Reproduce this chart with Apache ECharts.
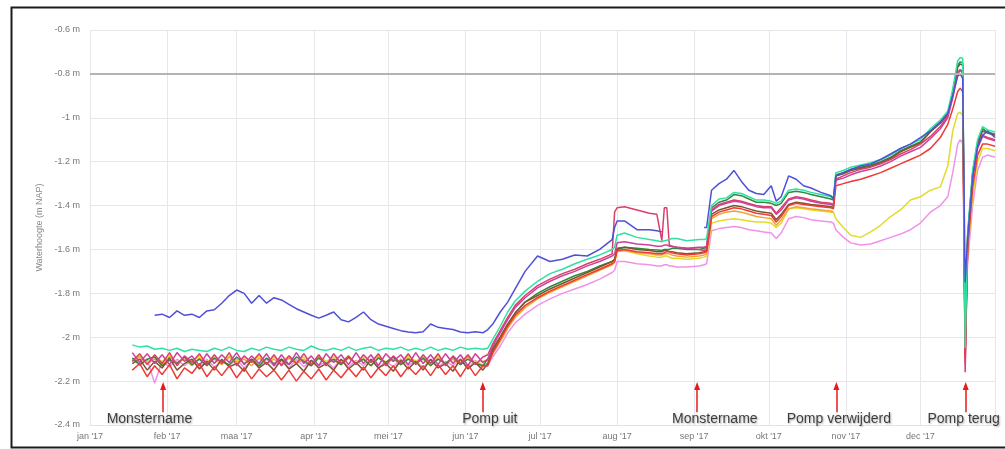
<!DOCTYPE html>
<html>
<head>
<meta charset="utf-8">
<title>Waterhoogte 2017</title>
<script src="https://cdn.jsdelivr.net/npm/echarts@6/dist/echarts.min.js"></script>
<style>
  html, body { margin: 0; padding: 0; background: #fff; }
  #chart { width: 1005px; height: 449px; }
</style>
</head>
<body>
<div id="chart"></div>
<script>
// meetdagen (dag van het jaar, 1 jan = 0)
const days = [
  17, 20, 23, 26, 29, 32, 35, 38, 41, 44,
  47, 50, 53, 56, 59, 62, 65, 68, 71, 74,
  77, 80, 83, 86, 89, 92, 95, 98, 101, 104,
  107, 110, 113, 116, 119, 122, 125, 128, 131, 134,
  137, 140, 143, 146, 149, 152, 155, 158, 160, 162,
  165, 168, 171, 175, 180, 185, 190, 195, 200, 205,
  210, 211, 212, 215, 220, 225, 228, 230, 231, 232,
  233, 234, 236, 240, 245, 247, 248, 250, 253, 256,
  259, 262, 265, 268, 271, 274, 276, 278, 281, 284,
  287, 290, 294, 298, 299, 300, 303, 306, 310, 314,
  318, 322, 326, 330, 334, 338, 342, 345, 347, 349,
  350, 351, 352, 353, 355, 357, 359, 361, 364
]

const monthLabels = ['jan', 'feb', 'maa', 'apr', 'mei', 'jun', 'jul', 'aug', 'sep', 'okt', 'nov', 'dec']
const yTicks = [-2.4, -2.2, -2, -1.8, -1.6, -1.4, -1.2, -1, -0.8, -0.6]
const refLevel = -0.8

// waterhoogte per peilbuis (m NAP)
const pink = [
  -2.095, -2.13, -2.10, -2.21, -2.11, -2.135, -2.10, -2.13, -2.105, -2.14,
  -2.10, -2.135, -2.11, -2.13, -2.10, -2.14, -2.105, -2.135, -2.10, -2.13,
  -2.11, -2.14, -2.10, -2.135, -2.105, -2.13, -2.11, -2.14, -2.10, -2.135,
  -2.105, -2.13, -2.10, -2.14, -2.11, -2.135, -2.10, -2.13, -2.105, -2.14,
  -2.10, -2.135, -2.11, -2.13, -2.10, -2.14, -2.105, -2.135, -2.13, -2.09,
  -2.04, -1.98, -1.935, -1.895, -1.855, -1.825, -1.80, -1.78, -1.76, -1.735,
  -1.705, -1.695, -1.655, -1.655, -1.665, -1.67, -1.675, -1.675, -1.67, -1.67,
  -1.675, -1.675, -1.68, -1.68, -1.675, -1.67, -1.665, -1.515, -1.505, -1.50,
  -1.495, -1.50, -1.51, -1.515, -1.52, -1.525, -1.55, -1.525, -1.46, -1.45,
  -1.455, -1.465, -1.47, -1.475, -1.48, -1.51, -1.545, -1.57, -1.58, -1.575,
  -1.56, -1.545, -1.53, -1.51, -1.48, -1.43, -1.40, -1.36, -1.25, -1.12,
  -1.10, -1.115, -1.95, -1.66, -1.40, -1.24, -1.18, -1.17, -1.18
]
const yellow = [
  -2.10, -2.085, -2.115, -2.09, -2.11, -2.085, -2.12, -2.09, -2.11, -2.085,
  -2.115, -2.09, -2.12, -2.085, -2.11, -2.09, -2.115, -2.085, -2.12, -2.09,
  -2.11, -2.085, -2.115, -2.09, -2.12, -2.085, -2.11, -2.09, -2.115, -2.085,
  -2.12, -2.09, -2.11, -2.085, -2.115, -2.09, -2.12, -2.085, -2.11, -2.09,
  -2.115, -2.085, -2.12, -2.09, -2.11, -2.085, -2.115, -2.11, -2.11, -2.07,
  -2.015, -1.955, -1.905, -1.86, -1.82, -1.79, -1.765, -1.74, -1.715, -1.69,
  -1.665, -1.655, -1.60, -1.605, -1.62, -1.63, -1.635, -1.635, -1.63, -1.63,
  -1.635, -1.64, -1.64, -1.645, -1.64, -1.635, -1.63, -1.48, -1.47, -1.465,
  -1.46, -1.465, -1.47, -1.475, -1.475, -1.48, -1.50, -1.48, -1.415, -1.41,
  -1.415, -1.42, -1.425, -1.43, -1.43, -1.46, -1.50, -1.535, -1.545, -1.52,
  -1.49, -1.45, -1.42, -1.375, -1.36, -1.33, -1.315, -1.22, -1.06, -0.98,
  -0.975, -0.99, -2.00, -1.62, -1.36, -1.20, -1.14, -1.14, -1.15
]
const orange = [
  -2.11, -2.09, -2.12, -2.10, -2.125, -2.09, -2.115, -2.10, -2.13, -2.095,
  -2.12, -2.10, -2.125, -2.09, -2.115, -2.10, -2.13, -2.095, -2.12, -2.10,
  -2.125, -2.095, -2.12, -2.10, -2.13, -2.09, -2.12, -2.105, -2.125, -2.095,
  -2.12, -2.10, -2.13, -2.09, -2.12, -2.10, -2.125, -2.095, -2.12, -2.10,
  -2.13, -2.095, -2.12, -2.10, -2.125, -2.09, -2.12, -2.125, -2.12, -2.075,
  -2.02, -1.96, -1.91, -1.865, -1.825, -1.795, -1.77, -1.745, -1.72, -1.695,
  -1.67, -1.66, -1.61, -1.605, -1.615, -1.62, -1.625, -1.625, -1.62, -1.62,
  -1.62, -1.625, -1.63, -1.635, -1.63, -1.625, -1.62, -1.46, -1.44, -1.43,
  -1.425, -1.43, -1.44, -1.45, -1.455, -1.46, -1.49, -1.465, -1.415, -1.405,
  -1.41, -1.415, -1.42, -1.425, -1.43, null, null, null, null, null,
  null, null, null, null, null, null, null, null, null, null,
  null, null, null, null, null, null, null, null, null
]
const darkGreen = [
  -2.095, -2.125, -2.10, -2.09, -2.13, -2.105, -2.12, -2.09, -2.125, -2.10,
  -2.13, -2.095, -2.11, -2.125, -2.09, -2.12, -2.10, -2.13, -2.095, -2.12,
  -2.10, -2.125, -2.09, -2.11, -2.13, -2.095, -2.12, -2.10, -2.125, -2.09,
  -2.12, -2.10, -2.13, -2.095, -2.115, -2.09, -2.125, -2.10, -2.12, -2.095,
  -2.13, -2.10, -2.12, -2.09, -2.125, -2.10, -2.12, -2.13, -2.10, -2.05,
  -2.00, -1.94, -1.89, -1.84, -1.80, -1.77, -1.745, -1.72, -1.70, -1.675,
  -1.655, -1.645, -1.60, -1.59, -1.595, -1.60, -1.602, -1.605, -1.60, -1.60,
  -1.60, -1.595, -1.595, -1.60, -1.60, -1.595, -1.59, -1.41, -1.385, -1.375,
  -1.35, -1.355, -1.37, -1.385, -1.385, -1.39, -1.40, -1.39, -1.34, -1.335,
  -1.34, -1.35, -1.36, -1.37, -1.375, -1.26, -1.25, -1.235, -1.225, -1.215,
  -1.20, -1.18, -1.15, -1.13, -1.11, -1.06, -1.02, -0.98, -0.88, -0.76,
  -0.745, -0.75, -2.08, -1.54, -1.25, -1.11, -1.05, -1.065, -1.075
]
const brown = [
  -2.12, -2.10, -2.15, -2.11, -2.14, -2.095, -2.15, -2.12, -2.10, -2.145,
  -2.11, -2.15, -2.10, -2.135, -2.12, -2.155, -2.10, -2.14, -2.115, -2.15,
  -2.10, -2.145, -2.12, -2.155, -2.105, -2.14, -2.12, -2.15, -2.10, -2.145,
  -2.115, -2.15, -2.10, -2.14, -2.12, -2.155, -2.105, -2.145, -2.11, -2.15,
  -2.10, -2.14, -2.12, -2.155, -2.10, -2.145, -2.115, -2.15, -2.12, -2.06,
  -2.00, -1.94, -1.89, -1.84, -1.81, -1.78, -1.755, -1.73, -1.705, -1.68,
  -1.655, -1.645, -1.595, -1.59, -1.60, -1.605, -1.61, -1.61, -1.605, -1.605,
  -1.61, -1.61, -1.615, -1.62, -1.615, -1.61, -1.605, -1.44, -1.42, -1.41,
  -1.40, -1.405, -1.415, -1.425, -1.43, -1.435, -1.465, -1.44, -1.395, -1.385,
  -1.39, -1.395, -1.40, -1.405, -1.41, -1.265, -1.255, -1.24, -1.23, -1.22,
  -1.205, -1.185, -1.155, -1.135, -1.115, -1.065, -1.025, -0.985, -0.89, -0.77,
  -0.755, -0.76, -2.06, -1.54, -1.26, -1.12, -1.06, -1.07, -1.08
]
const crimson = [
  -2.11, -2.075, -2.125, -2.08, -2.12, -2.07, -2.13, -2.085, -2.115, -2.075,
  -2.125, -2.08, -2.12, -2.07, -2.13, -2.085, -2.115, -2.075, -2.125, -2.08,
  -2.13, -2.085, -2.12, -2.075, -2.125, -2.08, -2.13, -2.075, -2.12, -2.085,
  -2.125, -2.08, -2.115, -2.075, -2.13, -2.085, -2.12, -2.075, -2.125, -2.08,
  -2.12, -2.075, -2.13, -2.085, -2.12, -2.08, -2.125, -2.09, -2.08, -2.03,
  -1.97, -1.91, -1.855, -1.81, -1.765, -1.735, -1.71, -1.69, -1.665, -1.645,
  -1.62, -1.43, -1.41, -1.405, -1.42, -1.435, -1.44, -1.56, -1.41, -1.41,
  -1.58, -1.585, -1.59, -1.595, -1.60, -1.605, -1.60, -1.42, -1.395, -1.385,
  -1.375, -1.38, -1.39, -1.40, -1.405, -1.405, -1.435, -1.41, -1.37, -1.36,
  -1.365, -1.375, -1.385, -1.39, -1.395, -1.28, -1.265, -1.25, -1.235, -1.225,
  -1.21, -1.19, -1.165, -1.145, -1.12, -1.085, -1.04, -0.99, -0.90, -0.79,
  -0.78, -0.79, -2.16, -1.56, -1.27, -1.13, -1.08, -1.09, -1.10
]
const magenta = [
  -2.07, -2.115, -2.075, -2.12, -2.08, -2.125, -2.07, -2.11, -2.085, -2.13,
  -2.075, -2.12, -2.08, -2.115, -2.07, -2.125, -2.085, -2.12, -2.075, -2.13,
  -2.08, -2.125, -2.07, -2.12, -2.085, -2.13, -2.075, -2.115, -2.08, -2.125,
  -2.07, -2.12, -2.08, -2.13, -2.075, -2.11, -2.08, -2.125, -2.07, -2.12,
  -2.08, -2.125, -2.075, -2.12, -2.08, -2.13, -2.075, -2.115, -2.10, -2.04,
  -1.98, -1.92, -1.865, -1.82, -1.775, -1.745, -1.72, -1.70, -1.675, -1.655,
  -1.63, -1.62, -1.57, -1.565, -1.575, -1.58, -1.585, -1.585, -1.58, -1.58,
  -1.585, -1.585, -1.59, -1.595, -1.59, -1.59, -1.585, -1.425, -1.40, -1.39,
  -1.38, -1.385, -1.395, -1.405, -1.41, -1.41, -1.44, -1.42, -1.375, -1.365,
  -1.37, -1.38, -1.39, -1.395, -1.40, -1.285, -1.275, -1.26, -1.245, -1.235,
  -1.22, -1.20, -1.175, -1.155, -1.135, -1.095, -1.05, -1.00, -0.91, -0.80,
  -0.785, -0.795, -2.12, -1.57, -1.28, -1.14, -1.085, -1.095, -1.105
]
const red = [
  -2.15, -2.12, -2.18, -2.13, -2.17, -2.125, -2.19, -2.14, -2.165, -2.12,
  -2.18, -2.135, -2.175, -2.13, -2.185, -2.14, -2.19, -2.145, -2.18, -2.15,
  -2.195, -2.15, -2.20, -2.155, -2.19, -2.145, -2.195, -2.15, -2.185, -2.14,
  -2.18, -2.135, -2.185, -2.14, -2.175, -2.13, -2.18, -2.135, -2.17, -2.13,
  -2.175, -2.125, -2.17, -2.13, -2.18, -2.125, -2.175, -2.13, -2.13, -2.07,
  -2.01, -1.95, -1.90, -1.855, -1.82, -1.79, -1.765, -1.74, -1.715, -1.69,
  -1.665, -1.655, -1.605, -1.60, -1.61, -1.615, -1.62, -1.62, -1.615, -1.61,
  -1.61, -1.615, -1.62, -1.625, -1.62, -1.615, -1.61, -1.45, -1.43, -1.42,
  -1.41, -1.415, -1.425, -1.435, -1.44, -1.445, -1.475, -1.45, -1.40, -1.39,
  -1.395, -1.40, -1.405, -1.41, -1.415, -1.31, -1.30, -1.29, -1.28, -1.265,
  -1.25, -1.23, -1.21, -1.19, -1.17, -1.14, -1.09, -1.03, -0.96, -0.88,
  -0.865, -0.88, -2.10, -1.60, -1.32, -1.17, -1.12, -1.12, -1.13
]
const turquoise = [
  -2.035, -2.045, -2.04, -2.055, -2.05, -2.06, -2.05, -2.065, -2.055, -2.06,
  -2.065, -2.05, -2.06, -2.045, -2.06, -2.065, -2.05, -2.06, -2.045, -2.055,
  -2.06, -2.045, -2.055, -2.06, -2.04, -2.055, -2.06, -2.05, -2.06, -2.045,
  -2.06, -2.05, -2.045, -2.06, -2.05, -2.055, -2.045, -2.06, -2.05, -2.06,
  -2.045, -2.06, -2.05, -2.06, -2.045, -2.055, -2.05, -2.055, -2.05, -2.01,
  -1.95, -1.885, -1.835, -1.79, -1.745, -1.71, -1.69, -1.665, -1.645, -1.625,
  -1.60, -1.59, -1.535, -1.525, -1.545, -1.555, -1.56, -1.565, -1.56, -1.558,
  -1.555, -1.55, -1.55, -1.56, -1.555, -1.555, -1.55, -1.40, -1.37, -1.365,
  -1.34, -1.345, -1.36, -1.375, -1.375, -1.38, -1.39, -1.38, -1.33, -1.325,
  -1.33, -1.34, -1.35, -1.36, -1.365, -1.25, -1.24, -1.225, -1.215, -1.205,
  -1.19, -1.17, -1.14, -1.12, -1.10, -1.05, -1.01, -0.97, -0.87, -0.74,
  -0.725, -0.73, -2.05, -1.52, -1.24, -1.10, -1.04, -1.055, -1.065
]
const blue = [
  null, null, null, -1.90, -1.895, -1.91, -1.88, -1.90, -1.895, -1.91,
  -1.88, -1.875, -1.845, -1.81, -1.785, -1.80, -1.845, -1.81, -1.845, -1.82,
  -1.83, -1.85, -1.87, -1.885, -1.90, -1.913, -1.90, -1.885, -1.92, -1.93,
  -1.91, -1.885, -1.92, -1.94, -1.95, -1.96, -1.97, -1.976, -1.98, -1.975,
  -1.94, -1.955, -1.96, -1.965, -1.976, -1.98, -1.975, -1.98, -1.965, -1.94,
  -1.885, -1.84, -1.78, -1.70, -1.63, -1.655, -1.645, -1.625, -1.63, -1.60,
  -1.555, -1.50, -1.47, -1.47, -1.51, -1.51, -1.515, -1.52, null, null,
  null, null, null, null, null, -1.50, -1.50, -1.33, -1.30, -1.28,
  -1.24, -1.29, -1.33, -1.345, -1.35, -1.31, -1.38, -1.36, -1.265, -1.28,
  -1.31, -1.32, -1.34, -1.355, -1.37, -1.265, -1.25, -1.235, -1.22, -1.21,
  -1.19, -1.165, -1.14, -1.12, -1.09, -1.06, -1.02, -0.98, -0.90, -0.81,
  -0.80, -0.82, -1.75, -1.55, -1.27, -1.13, -1.08, -1.06, -1.09
]

// gebeurtenissen (dag van het jaar)
const eventNames = ['Monstername', 'Pomp uit', 'Monstername', 'Pomp verwijderd', 'Pomp terug']
const eventDays = [29.4, 158, 244.2, 300.2, 352.2]

function toTime(d) {
  const whole = Math.floor(d)
  return new Date(2017, 0, 1 + whole).getTime() + (d - whole) * 86400000
}

// volgorde = tekenvolgorde (laatste bovenop)
const wells = [
  { name: 'PB10', data: pink, color: '#f292e6' },
  { name: 'PB09', data: yellow, color: '#e3da2a' },
  { name: 'PB08', data: orange, color: '#f2a23a' },
  { name: 'PB07', data: darkGreen, color: '#2f8a3e' },
  { name: 'PB04', data: brown, color: '#7b5430' },
  { name: 'PB06', data: crimson, color: '#da3f6c' },
  { name: 'PB05', data: magenta, color: '#c8439a' },
  { name: 'PB03', data: red, color: '#ee3a34' },
  { name: 'PB02', data: turquoise, color: '#2fe2a2' },
  { name: 'PB01', data: blue, color: '#4f50d8' },
]

const series = wells.map(w => ({
  name: w.name,
  type: 'line',
  showSymbol: false,
  color: w.color,
  lineStyle: { width: 1.5 },
  data: days.map((d, i) => [toTime(d), w.data[i]]),
}))

// grijze referentielijn op -0.8 m
series[0].markLine = {
  silent: true,
  symbol: ['none', 'none'],
  label: { show: false },
  lineStyle: { color: '#b4b4b4', width: 2, type: 'solid' },
  data: [{ yAxis: refLevel }],
}

// teksten + rode pijlen
const textShift = [-5.5, 2.8, 7.1, 1, -0.8] // tekst t.o.v. pijl (dagen)
series.push({
  name: 'notes',
  type: 'scatter',
  symbolSize: 0,
  z: 20,
  silent: true,
  data: eventNames.map((n, i) => ({
    value: [toTime(eventDays[i] + textShift[i]), -2.375],
    label: { formatter: n },
  })),
  label: {
    show: true,
    position: 'inside',
    fontFamily: 'Liberation Sans',
    fontSize: 14,
    color: '#111',
    textShadowColor: 'rgba(0,0,0,0.4)',
    textShadowBlur: 2,
    textShadowOffsetX: 1,
    textShadowOffsetY: 1,
  },
  markLine: {
    silent: true,
    symbol: ['none', 'triangle'],
    symbolSize: [6, 8],
    label: { show: false },
    lineStyle: { color: '#e41c1c', width: 1.5, type: 'solid' },
    data: eventDays.map(d => [
      { coord: [toTime(d), -2.342] },
      { coord: [toTime(d), -2.222] },
    ]),
  },
})

const chart = echarts.init(document.getElementById('chart'))
chart.setOption({
  animation: false,
  grid: { left: 90, right: 10, top: 30, bottom: 24 },
  graphic: [{
    type: 'rect',
    left: 9,
    top: 5,
    shape: { width: 1020, height: 440 },
    style: { fill: 'none', stroke: '#1c1c1c', lineWidth: 2 },
    silent: true,
  }],
  xAxis: {
    type: 'time',
    min: toTime(0),
    max: toTime(364),
    splitNumber: 12,
    minInterval: 28 * 86400000,
    maxInterval: 31 * 86400000,
    axisLine: { lineStyle: { color: '#dfe3ee' } },
    axisTick: { show: false },
    splitLine: { show: true, lineStyle: { color: '#e6e6ec', width: 1 } },
    axisLabel: {
      color: '#777',
      fontSize: 9,
      fontFamily: 'Liberation Sans',
      margin: 7,
      showMaxLabel: false,
      formatter: v => monthLabels[new Date(v).getMonth()] + " '17",
    },
  },
  yAxis: {
    type: 'value',
    min: yTicks[0],
    max: yTicks[yTicks.length - 1],
    interval: 0.2,
    name: 'Waterhoogte (m NAP)',
    nameLocation: 'middle',
    nameGap: 45,
    nameRotate: 90,
    nameTextStyle: { color: '#888', fontSize: 9, fontFamily: 'Liberation Sans' },
    axisLine: { show: false },
    axisTick: { show: false },
    splitLine: { lineStyle: { color: '#e6e6e6', width: 1 } },
    axisLabel: {
      color: '#777',
      fontSize: 9,
      fontFamily: 'Liberation Sans',
      margin: 10,
      formatter: v => +v.toFixed(1) + ' m',
    },
  },
  series: series,
})
</script>
</body>
</html>
